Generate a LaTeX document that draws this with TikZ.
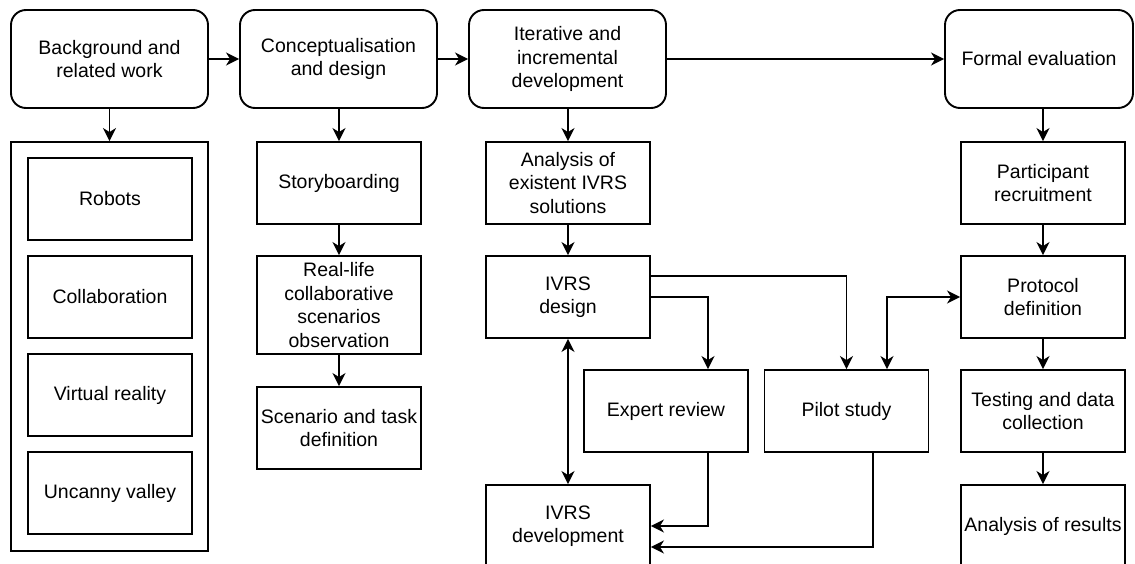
\documentclass[tikz,border=0pt]{standalone}
\usepackage{fontspec}
\setmainfont{Liberation Sans}
\usetikzlibrary{arrows.meta}

\begin{document}
\begin{tikzpicture}[x=1pt,y=-1pt,
  every node/.style={font=\fontsize{19.5}{23.4}\selectfont, align=center, inner sep=0pt},
  phasebox/.style={draw, line width=1.9pt, rounded corners=15pt, fill=white,
    minimum width=197pt, minimum height=98pt},
  taskbox/.style={draw, line width=1.9pt, fill=white,
    minimum width=164pt, minimum height=82pt},
  groupbox/.style={draw, line width=1.9pt, minimum width=197pt, minimum height=409pt},
  tip/.tip={Stealth[length=13pt,width=13pt,inset=4pt]},
  arr/.style={line width=1.9pt, -tip},
  darr/.style={line width=1.9pt, tip-tip}
]
\useasboundingbox (0,0) rectangle (1135,564);
\clip (0,0) rectangle (1135,564);

% phases
\node[phasebox] (bg)  at (109.5,59) {Background and\\related work};
\node[phasebox] (cd)  at (338.5,59) {Conceptualisation\\and design};
\node[phasebox] (iid) at (567.5,59) {Iterative and\\incremental\\development};
\node[phasebox, minimum width=188pt] (fe) at (1039,59) {Formal evaluation};

% background topics
\node[groupbox] (grp) at (109.5,346.5) {};
\node[taskbox] (robots) at (110,199) {Robots};
\node[taskbox] (collab) at (110,297) {Collaboration};
\node[taskbox] (vr)     at (110,395) {Virtual reality};
\node[taskbox] (uv)     at (110,493) {Uncanny valley};

% conceptualisation steps
\node[taskbox] (story) at (339,183) {Storyboarding};
\node[taskbox, minimum height=98pt] (real) at (339,305) {Real-life\\collaborative\\scenarios\\observation};
\node[taskbox] (scen)  at (339,428) {Scenario and task\\definition};

% development steps
\node[taskbox] (anal)   at (568,183) {Analysis of\\existent IVRS\\solutions};
\node[taskbox] (design) at (568,297) {IVRS\\design};
\node[taskbox] (expert) at (666,411) {Expert review};
\node[taskbox] (pilot)  at (846.5,411) {Pilot study};
\node[taskbox] (dev)    at (568,526) {IVRS\\development};

% evaluation steps
\node[taskbox] (part)  at (1043,183) {Participant\\recruitment};
\node[taskbox] (proto) at (1043,297) {Protocol\\definition};
\node[taskbox] (test)  at (1043,411) {Testing and data\\collection};
\node[taskbox] (res)   at (1043,526) {Analysis of results};

% phase sequence
\draw[arr] (bg.east) -- (cd.west);
\draw[arr] (cd.east) -- (iid.west);
\draw[arr] (iid.east) -- (fe.west);

% phase to first step
\draw[arr] (bg.south) -- (grp.north);
\draw[arr] (story.north |- cd.south) -- (story.north);
\draw[arr] (anal.north |- iid.south) -- (anal.north);
\draw[arr] (part.north |- fe.south) -- (part.north);

% step chains
\draw[arr] (story) -- (real);
\draw[arr] (real) -- (scen);
\draw[arr] (anal) -- (design);
\draw[arr] (part) -- (proto);
\draw[arr] (proto) -- (test);
\draw[arr] (test) -- (res);

% design / review / pilot loop
\draw[arr] ([yshift=21pt]design.east) -| (pilot.north);
\draw[arr] (design.east) -| ([xshift=42pt]expert.north);
\draw[darr] (proto.west) -| ([xshift=40.5pt]pilot.north);
\draw[darr] (design.south) -- (dev.north);
\draw[arr] ([xshift=42pt]expert.south) |- (dev.east);
\draw[arr] ([xshift=26.5pt]pilot.south) |- ([yshift=-21pt]dev.east);
\end{tikzpicture}
\end{document}
